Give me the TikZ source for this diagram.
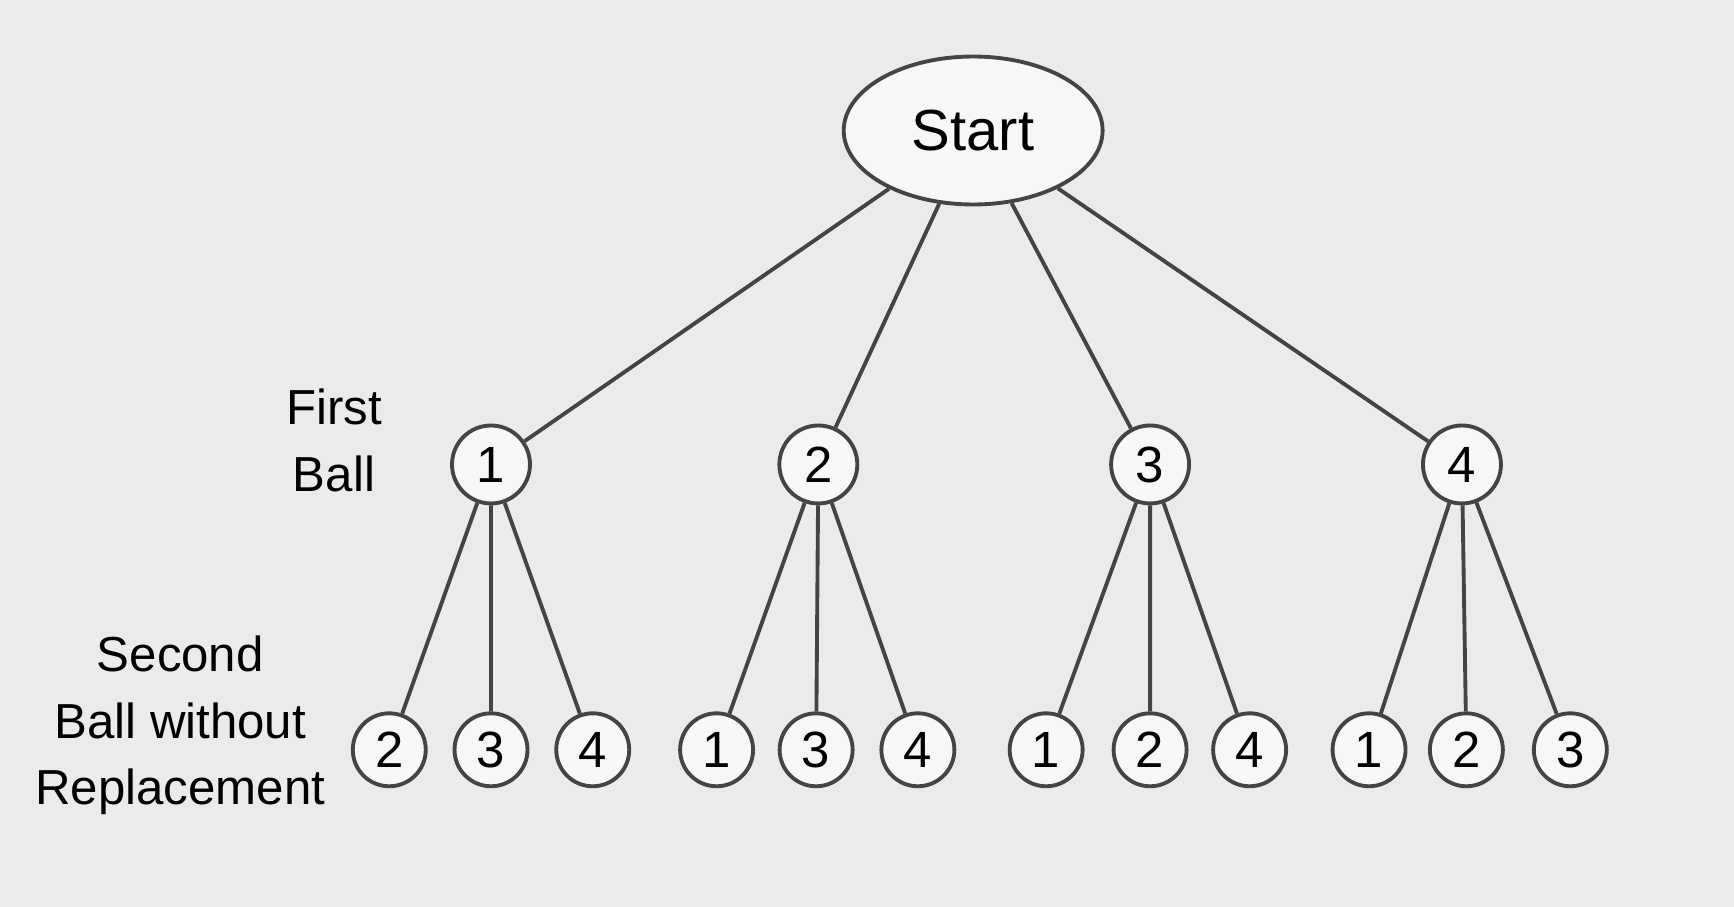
\documentclass[tikz,border=0pt]{standalone}
\usepackage{fontspec}
\setmainfont{Liberation Sans}
\usetikzlibrary{shapes.geometric}
\definecolor{bg}{HTML}{EBEBEB}
\definecolor{ink}{HTML}{444444}

\begin{document}
\begin{tikzpicture}[x=0.01106cm,y=-0.01106cm,
	ball/.style={circle,draw=ink,line width=1.1pt,fill=white!60!bg,minimum size=0.78cm,inner sep=0pt,font=\fontsize{14.5}{14.5}\selectfont},
	sball/.style={ball,minimum size=0.73cm},
	edge/.style={draw=ink,line width=1.1pt},
	lbl/.style={align=center,font=\fontsize{14}{19}\selectfont}]
	
	\fill[bg] (0,0) rectangle (1568,820);
	
	\node[ellipse,draw=ink,line width=1.1pt,fill=white!60!bg,minimum width=2.59cm,minimum height=1.48cm,
		font=\fontsize{16.5}{16.5}\selectfont] (start) at (880,118) {Start};
	
	% first ball
	\node[ball] (f1) at (444,420) {1};
	\node[ball] (f2) at (740,420) {2};
	\node[ball] (f3) at (1040,420) {3};
	\node[ball] (f4) at (1322,420) {4};
	
	% second ball
	\node[sball] (s12) at (352,678)  {2};
	\node[sball] (s13) at (444,678)  {3};
	\node[sball] (s14) at (536,678)  {4};
	\node[sball] (s21) at (648,678)  {1};
	\node[sball] (s23) at (738,678)  {3};
	\node[sball] (s24) at (830,678)  {4};
	\node[sball] (s31) at (946,678)  {1};
	\node[sball] (s32) at (1040,678) {2};
	\node[sball] (s34) at (1130,678) {4};
	\node[sball] (s41) at (1238,678) {1};
	\node[sball] (s42) at (1326,678) {2};
	\node[sball] (s43) at (1420,678) {3};
	
	\foreach \f in {1,2,3,4}
		\path[edge] (start) -- (f\f);
	\foreach \f/\a/\b/\c in {1/2/3/4,2/1/3/4,3/1/2/4,4/1/2/3}
		\path[edge] (f\f) -- (s\f\a) (f\f) -- (s\f\b) (f\f) -- (s\f\c);
	
	\node[lbl] (first)  at (302,398) {First\\Ball};
	\node[lbl] (second) at (163,656) {Second\\Ball without\\Replacement};
	
\end{tikzpicture}
\end{document}
